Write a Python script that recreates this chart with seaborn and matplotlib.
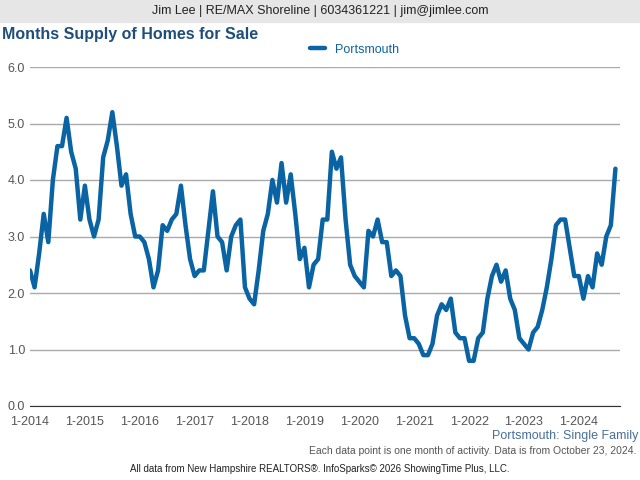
import matplotlib
matplotlib.use("Agg")
import matplotlib.pyplot as plt
import seaborn as sns
import pandas as pd
import numpy as np

values = [
 2.4, 2.1, 2.7, 3.4, 2.9, 4.0, 4.6, 4.6, 5.1, 4.5, 4.2, 3.3,
 3.9, 3.3, 3.0, 3.3, 4.4, 4.7, 5.2, 4.6, 3.9, 4.1, 3.4, 3.0,
 3.0, 2.9, 2.6, 2.1, 2.4, 3.2, 3.1, 3.3, 3.4, 3.9, 3.2, 2.6,
 2.3, 2.4, 2.4, 3.1, 3.8, 3.0, 2.9, 2.4, 3.0, 3.2, 3.3, 2.1,
 1.9, 1.8, 2.4, 3.1, 3.4, 4.0, 3.6, 4.3, 3.6, 4.1, 3.4, 2.6,
 2.8, 2.1, 2.5, 2.6, 3.3, 3.3, 4.5, 4.2, 4.4, 3.3, 2.5, 2.3,
 2.2, 2.1, 3.1, 3.0, 3.3, 2.9, 2.9, 2.3, 2.4, 2.3, 1.6, 1.2,
 1.2, 1.1, 0.9, 0.9, 1.1, 1.6, 1.8, 1.7, 1.9, 1.3, 1.2, 1.2,
 0.8, 0.8, 1.2, 1.3, 1.9, 2.3, 2.5, 2.2, 2.4, 1.9, 1.7, 1.2,
 1.1, 1.0, 1.3, 1.4, 1.7, 2.1, 2.6, 3.2, 3.3, 3.3, 2.8, 2.3,
 2.3, 1.9, 2.3, 2.1, 2.7, 2.5, 3.0, 3.2, 4.2,
]
years = list(range(2014, 2025))
tick_labels = [f"1-{y}" for y in years]

months = np.arange(len(values))
df = pd.DataFrame({"m": months, "v": values})

sns.set_style("white")
plt.rcParams['font.family'] = ['Liberation Sans', 'DejaVu Sans']
fig = plt.figure(figsize=(6.4, 4.8), dpi=100)
ax = fig.add_axes([30/640, 1-406/480, 590/640, 339/480])
color = "#0a64a4"
sns.lineplot(data=df, x="m", y="v", ax=ax, color=color, linewidth=3.2, label="Portsmouth")
ax.set_xlim(0, 129)
ax.set_ylim(0, 6)
ax.set_yticks(np.arange(0, 6.01, 1))
ax.set_yticklabels([f"{t:.1f}" for t in np.arange(0, 6.01, 1)], color="#555555", fontsize=9)
ax.set_xticks([i*12 for i in range(len(years))])
ax.set_xticklabels(tick_labels, color="#555555", fontsize=9)
ax.tick_params(axis="x", length=4, color="#333333")
ax.tick_params(axis="y", length=0)
ax.grid(axis="y", color="#aaaaaa", linewidth=1)
for s in ["top", "right", "left"]:
    ax.spines[s].set_visible(False)
ax.spines["bottom"].set_color("#333333")
ax.set_xlabel(""); ax.set_ylabel("")
ax.legend(loc="lower center", bbox_to_anchor=(0.55, 1.0), frameon=False, fontsize=9,
          handlelength=1.2, labelcolor="#0a64a4")

fig.patches.append(plt.Rectangle((0, 1-22/480), 1, 22/480, transform=fig.transFigure,
                                 color="#e6e6e6", zorder=0))
fig.text(0.5, 1-11/480, "Jim Lee | RE/MAX Shoreline | 6034361221 | jim@jimlee.com",
         ha="center", va="center", fontsize=9, color="#222222")
fig.text(2/640, 1-34/480, "Months Supply of Homes for Sale", ha="left", va="center",
         fontsize=11.5, fontweight="bold", color="#1f4e79")
fig.text(638/640, 1-436/480, "Portsmouth: Single Family", ha="right", va="center",
         fontsize=9, color="#4a6f9a")
fig.text(636/640, 1-451/480, "Each data point is one month of activity. Data is from October 23, 2024.",
         ha="right", va="center", fontsize=7.5, color="#555555")
fig.text(0.5, 1-469/480, "All data from New Hampshire REALTORS®. InfoSparks© 2026 ShowingTime Plus, LLC.",
         ha="center", va="center", fontsize=7, color="#222222")
fig.savefig("out.png", dpi=100)
